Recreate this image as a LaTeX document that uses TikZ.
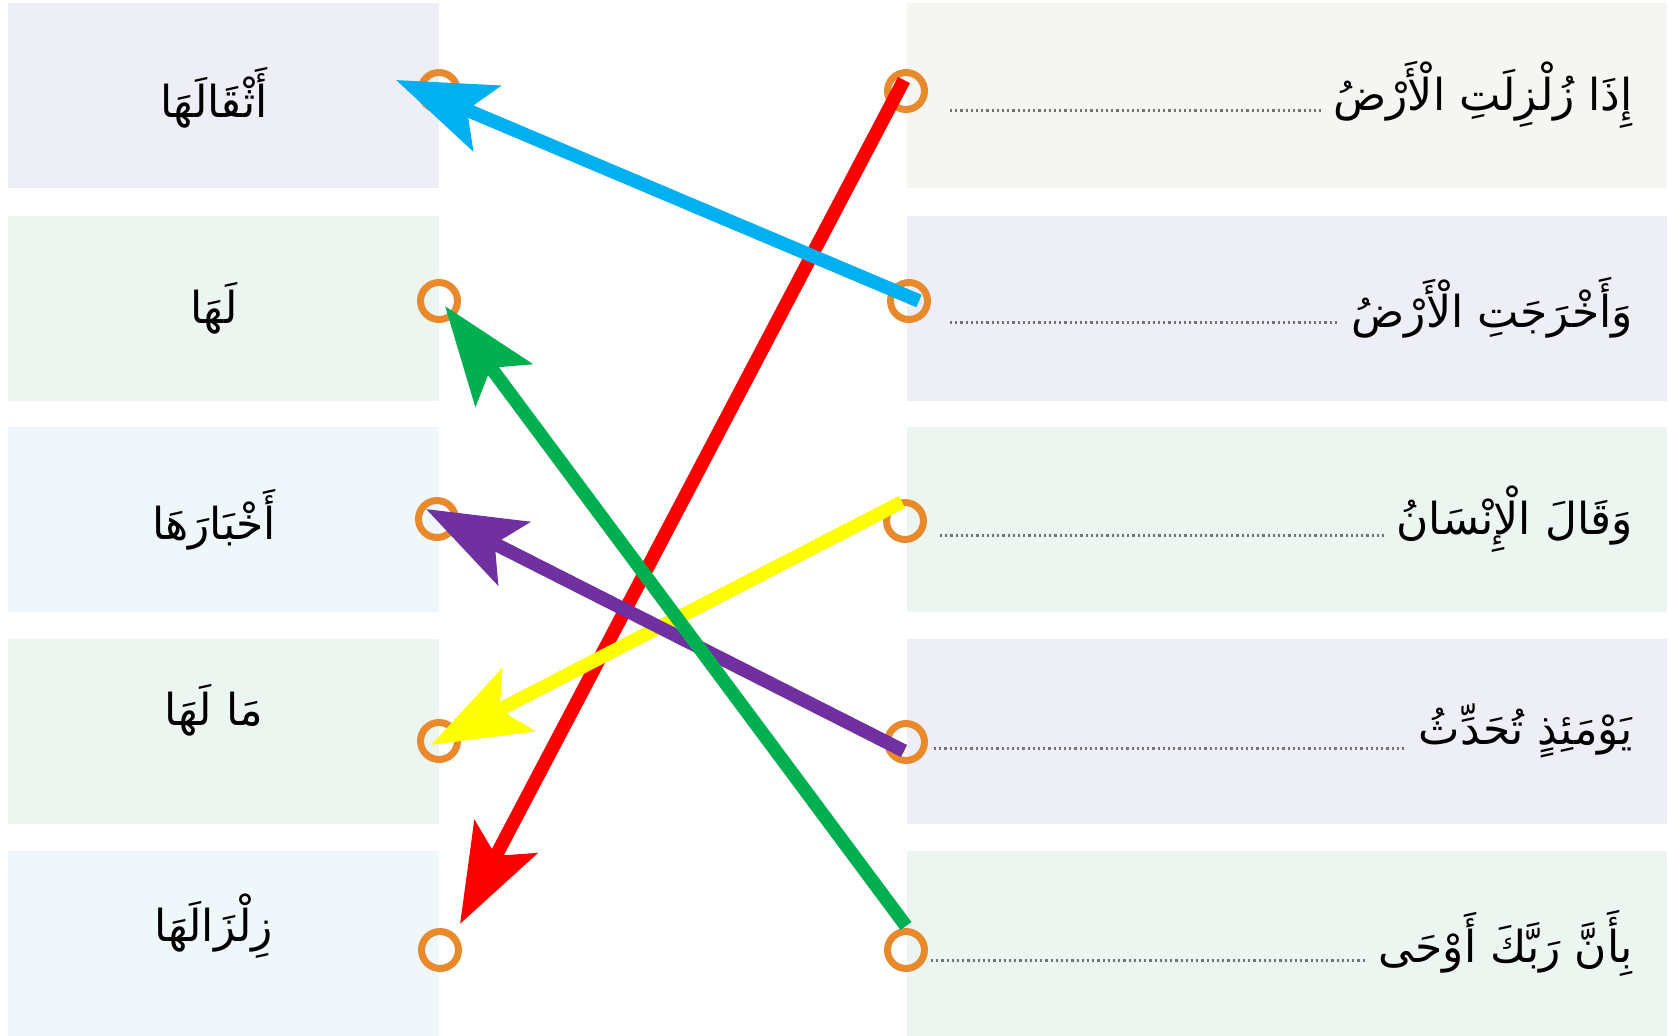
\documentclass[tikz,border=0pt]{standalone}
\usepackage{fontspec}
\usetikzlibrary{arrows.meta,calc}
\TeXXeTstate=1
\newfontfamily\arabicfont[Script=Arabic]{DejaVu Sans}
\definecolor{bLav}{HTML}{EEEEF6}
\definecolor{bGrn}{HTML}{EDF5F1}
\definecolor{bBlu}{HTML}{F0F7FB}
\definecolor{bBei}{HTML}{F5F5F1}
\definecolor{ringC}{HTML}{E8892C}
\definecolor{aBlue}{HTML}{00B0F0}
\definecolor{aRed}{HTML}{FF0000}
\definecolor{aGreen}{HTML}{00B050}
\definecolor{aYellow}{HTML}{FFFF00}
\definecolor{aPurple}{HTML}{7030A0}
\tikzset{
  lbox/.style={draw=none, minimum width=431pt, minimum height=185pt, anchor=north west, inner sep=0pt},
  rbox/.style={draw=none, minimum width=760pt, minimum height=185pt, anchor=north west, inner sep=0pt},
  ring/.style={circle, draw=ringC, line width=7pt, minimum size=37pt, inner sep=0pt},
  ltext/.style={font=\arabicfont\fontsize{44}{54}\selectfont, inner sep=0pt},
  rtext/.style={font=\arabicfont\fontsize{44}{54}\selectfont, inner sep=0pt, anchor=east},
  dotline/.style={draw=black!55, line width=3pt, dash pattern=on 2.2pt off 3pt},
  match/.style={line width=13.5pt, -{Stealth[length=98pt, width=70pt, inset=21pt]},
    preaction={draw=black, opacity=0.18, transform canvas={shift={(2.5pt,-2.5pt)}}}}
}
\begin{document}
\begin{tikzpicture}[x=1pt,y=-1pt]
\useasboundingbox (0,0) rectangle (1668,1036);
\fill[white] (0,0) rectangle (1668,1036);
% left boxes
\node[lbox, fill=bLav] (LB1) at (8,3) {};
\node[lbox, fill=bGrn] (LB2) at (8,216) {};
\node[lbox, fill=bBlu] (LB3) at (8,427) {};
\node[lbox, fill=bGrn] (LB4) at (8,639) {};
\node[lbox, fill=bBlu] (LB5) at (8,851) {};
% right boxes
\node[rbox, fill=bBei] (RB1) at (907,3) {};
\node[rbox, fill=bLav] (RB2) at (907,216) {};
\node[rbox, fill=bGrn] (RB3) at (907,427) {};
\node[rbox, fill=bLav] (RB4) at (907,639) {};
\node[rbox, fill=bGrn] (RB5) at (907,851) {};
% left texts
\node[ltext] (lt1) at (214,98) {\beginR أَثْقَالَهَا\endR};
\node[ltext] (lt2) at (214,308) {\beginR لَهَا\endR};
\node[ltext] (lt3) at (214,520) {\beginR أَخْبَارَهَا\endR};
\node[ltext] (lt4) at (214,710) {\beginR مَا لَهَا\endR};
\node[ltext] (lt5) at (214,926) {\beginR زِلْزَالَهَا\endR};
% right texts
\node[rtext] (rt1) at (1633,95) {\beginR إِذَا زُلْزِلَتِ الْأَرْضُ\endR};
\node[rtext] (rt2) at (1633,308) {\beginR وَأَخْرَجَتِ الْأَرْضُ\endR};
\node[rtext] (rt3) at (1633,519) {\beginR وَقَالَ الْإِنْسَانُ\endR};
\node[rtext] (rt4) at (1633,731) {\beginR يَوْمَئِذٍ تُحَدِّثُ\endR};
\node[rtext] (rt5) at (1633,943) {\beginR بِأَنَّ رَبَّكَ أَوْحَى\endR};
% dotted leaders
\coordinate (d1) at (950,110);
\coordinate (d2) at (950,322);
\coordinate (d3) at (940,535);
\coordinate (d4) at (934,748);
\coordinate (d5) at (931,960);
\draw[dotline] (d1) -- ([xshift=-12pt]rt1.west |- d1);
\draw[dotline] (d2) -- ([xshift=-12pt]rt2.west |- d2);
\draw[dotline] (d3) -- ([xshift=-12pt]rt3.west |- d3);
\draw[dotline] (d4) -- ([xshift=-12pt]rt4.west |- d4);
\draw[dotline] (d5) -- ([xshift=-12pt]rt5.west |- d5);
% rings
\node[ring] (L1) at (439,91) {};
\node[ring] (L2) at (439,301) {};
\node[ring] (L3) at (437,519) {};
\node[ring] (L4) at (439,741) {};
\node[ring] (L5) at (440,950) {};
\node[ring] (R1) at (906,91) {};
\node[ring] (R2) at (909,301) {};
\node[ring] (R3) at (905,521) {};
\node[ring] (R4) at (906,742) {};
\node[ring] (R5) at (906,950) {};
% arrow ends
\coordinate (sRed) at ($(R1)+(-2,-11)$);
\coordinate (tRed) at ($(L5)+(20,-26)$);
\coordinate (sYel) at ($(R3)+(-3,-19)$);
\coordinate (tYel) at ($(L4)+(-8,4)$);
\coordinate (sPur) at ($(R4)+(-2,9)$);
\coordinate (tPur) at ($(L3)+(-11,-10)$);
\coordinate (sGrn) at ($(R5)+(0,-24)$);
\coordinate (tGrn) at ($(L2)+(6,5)$);
\coordinate (sBlu) at ($(R2)+(10,0)$);
\coordinate (tBlu) at ($(L1)+(-43,-11)$);
% arrows
\draw[match, aRed] (sRed) -- (tRed);
\draw[match, aYellow] (sYel) -- (tYel);
\draw[match, aPurple] (sPur) -- (tPur);
\draw[match, aGreen] (sGrn) -- (tGrn);
\draw[match, aBlue] (sBlu) -- (tBlu);
\end{tikzpicture}
\end{document}
